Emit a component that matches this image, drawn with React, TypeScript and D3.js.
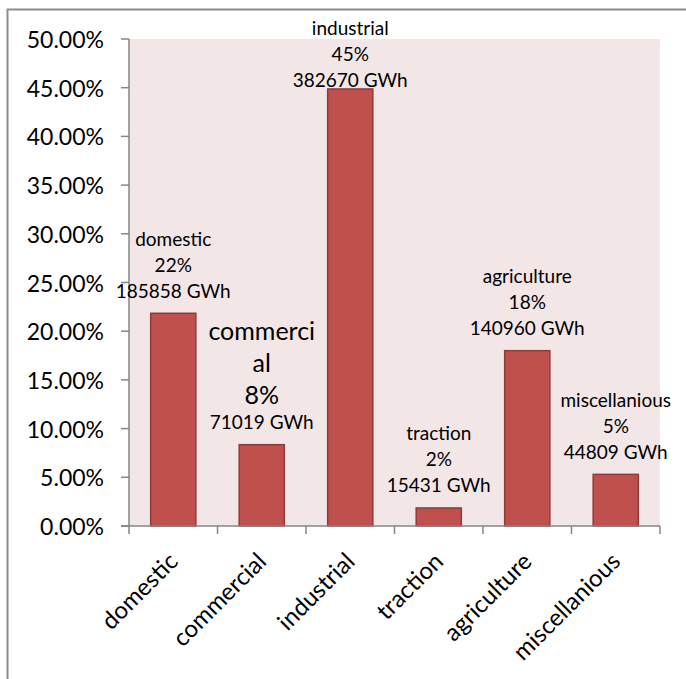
import React from "react";
import * as d3 from "d3";

// Electricity consumption by sector: share of total (%) and energy (GWh)
const categories = ["domestic", "commercial", "industrial", "traction", "agriculture", "miscellanious"];
const sharePercent = [21.84, 8.35, 44.87, 1.85, 18.0, 5.3];
const energyGWh = [185858, 71019, 382670, 15431, 140960, 44809];
const yTicks = [0, 5, 10, 15, 20, 25, 30, 35, 40, 45, 50];

// The commercial label is set in a larger type and wraps inside its box
const wrappedNames: Record<string, string[]> = { commercial: ["commerci", "al"] };
const enlargedLabel = "commercial";

const W = 686;
const H = 679;
const plot = { left: 129, right: 660, top: 39, bottom: 526 };
const FONT = "Lato, 'Open Sans', sans-serif";

export default function App() {
  const x = d3
    .scaleBand<string>()
    .domain(categories)
    .range([plot.left, plot.right])
    .paddingInner(0.49)
    .paddingOuter(0.245);
  const y = d3.scaleLinear().domain([0, 50]).range([plot.bottom, plot.top]);
  const step = x.step();
  const bounds = d3.range(categories.length + 1).map((i) => plot.left + i * step);

  return (
    <svg
      width={W}
      height={H}
      style={{ position: "absolute", left: 0, top: 0, display: "block", background: "#fff" }}
      fontFamily={FONT}
    >
      {/* chart frame */}
      <rect x={7.5} y={9.5} width={720} height={720} fill="#fff" stroke="#8c8c8c" strokeWidth={2} />

      {/* plot area */}
      <rect
        x={plot.left}
        y={plot.top}
        width={plot.right - plot.left}
        height={plot.bottom - plot.top}
        fill="#F2E6E6"
      />

      {/* bars */}
      {categories.map((c, i) => (
        <rect
          key={c}
          x={x(c)!}
          y={y(sharePercent[i])}
          width={x.bandwidth()}
          height={y(0) - y(sharePercent[i])}
          fill="#C0504D"
          stroke="#8E3B39"
          strokeWidth={1.5}
        />
      ))}

      {/* y axis */}
      <line x1={plot.left} x2={plot.left} y1={plot.top} y2={plot.bottom} stroke="#868686" strokeWidth={1.5} />
      {yTicks.map((t) => (
        <g key={t}>
          <line x1={plot.left - 8} x2={plot.left} y1={y(t)} y2={y(t)} stroke="#868686" strokeWidth={1.5} />
          <text x={104} y={y(t)} textAnchor="end" dominantBaseline="central" fontSize={23} fill="#000">
            {d3.format(".2f")(t) + "%"}
          </text>
        </g>
      ))}

      {/* x axis */}
      <line x1={plot.left - 8} x2={plot.right} y1={plot.bottom} y2={plot.bottom} stroke="#868686" strokeWidth={1.5} />
      {bounds.map((bx, i) => (
        <line key={i} x1={bx} x2={bx} y1={plot.bottom} y2={plot.bottom + 8} stroke="#868686" strokeWidth={1.5} />
      ))}
      {categories.map((c) => {
        const cx = x(c)! + x.bandwidth() / 2;
        return (
          <text
            key={c}
            transform={`translate(${cx + 6},${plot.bottom + 37}) rotate(-45)`}
            textAnchor="end"
            fontSize={24}
            fill="#000"
          >
            {c}
          </text>
        );
      })}

      {/* data labels: name, share, energy */}
      {categories.map((c, i) => {
        const cx = x(c)! + x.bandwidth() / 2;
        const big = c === enlargedLabel;
        const nameLines = wrappedNames[c] ?? [c];
        const lines: { text: string; size: number }[] = [
          ...nameLines.map((t) => ({ text: t, size: big ? 25 : 19 })),
          { text: `${Math.round(sharePercent[i])}%`, size: big ? 25 : 19 },
          { text: `${energyGWh[i]} GWh`, size: 19 },
        ];
        // stack upward from the bar top, kept inside the chart at the top
        const ys: number[] = [];
        let cy = y(sharePercent[i]) - 23;
        for (let k = lines.length - 1; k >= 0; k--) {
          ys[k] = cy;
          const gap = k > 0 && lines[k - 1].size > 20 ? (lines[k].size > 20 ? 32 : 28) : 26;
          cy -= gap;
        }
        const shift = Math.max(0, 27 - ys[0]);
        return (
          <g key={c}>
            {lines.map((l, k) => (
              <text
                key={k}
                x={cx}
                y={ys[k] + shift}
                textAnchor="middle"
                dominantBaseline="central"
                fontSize={l.size}
                fill="#000"
              >
                {l.text}
              </text>
            ))}
          </g>
        );
      })}
    </svg>
  );
}
